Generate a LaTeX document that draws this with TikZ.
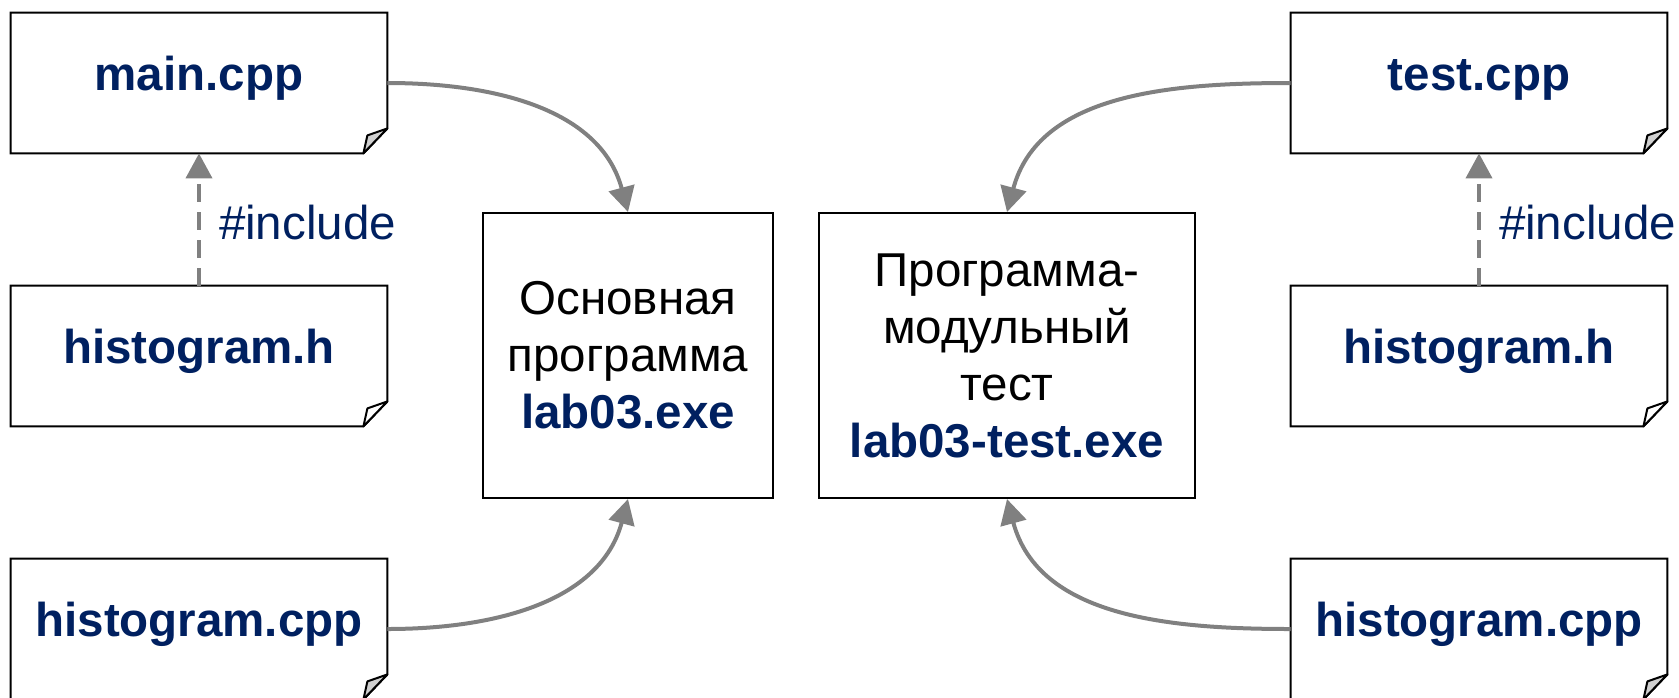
\documentclass[tikz,border=0pt]{standalone}
\usepackage{fontspec}
\setmainfont{Liberation Sans}
\usepackage{tikz}
\usetikzlibrary{arrows.meta,positioning}
\definecolor{navy}{HTML}{002060}
\definecolor{wire}{HTML}{808080}
\definecolor{foldgray}{HTML}{D0D0D0}
\newcommand{\labfont}{\fontsize{23.75}{28.5}\selectfont}

\begin{document}
\begin{tikzpicture}[x=0.5pt, y=0.5pt,
  srcfile/.style={minimum width=188pt, minimum height=70pt, inner sep=0pt,
    text height=10pt, text depth=3pt, font=\labfont\bfseries, text=navy},
  exebox/.style={draw, line width=1pt, minimum height=142.5pt, inner sep=0pt,
    align=center, font=\labfont},
  flow/.style={wire, line width=2pt, -{Triangle[length=12.5pt,width=13pt]}},
  incl/.style={flow, dash pattern=on 9pt off 5pt},
  incltext/.style={anchor=base west, xshift=9pt, yshift=-10pt, inner sep=0pt,
    font=\labfont, text=navy}]
\clip (0,0) rectangle (1679,-697);
\node[srcfile] (maincpp)  at (199,-83)  {main.cpp};
\node[srcfile] (hdrL)     at (199,-356) {histogram.h};
\node[srcfile] (histcppL) at (199,-629) {histogram.cpp};
\node[srcfile] (testcpp)  at (1479,-83)  {test.cpp};
\node[srcfile] (hdrR)     at (1479,-356) {histogram.h};
\node[srcfile] (histcppR) at (1479,-629) {histogram.cpp};
\node[exebox, minimum width=145pt] (exeMain) at (628,-355.5)
  {Основная\\программа\\{\bfseries\color{navy}lab03.exe}};
\node[exebox, minimum width=188pt] (exeTest) at (1007,-355.5)
  {Программа-\\модульный\\тест\\{\bfseries\color{navy}lab03-test.exe}};
\foreach \n/\c in {maincpp/foldgray, hdrL/white, histcppL/foldgray,
                   testcpp/foldgray, hdrR/white, histcppR/foldgray}{
  \draw[line width=1pt] (\n.north west) -- (\n.north east)
    -- ([yshift=12.5pt]\n.south east) -- ([xshift=-12pt]\n.south east)
    -- (\n.south west) -- cycle;
  \filldraw[line width=1pt, line join=round, fill=\c]
    ([yshift=12.5pt]\n.south east) -- ([xshift=-12pt]\n.south east)
    -- ([xshift=-10pt,yshift=9pt]\n.south east) -- cycle;
}
\draw[incl] (hdrL.north) -- node[incltext] {\#include} (maincpp.south);
\draw[incl] (hdrR.north) -- node[incltext] {\#include} (testcpp.south);
\draw[flow] (maincpp.east) to[out=0, in=105] (exeMain.north);
\draw[flow] (histcppL.east) to[out=0, in=-105] (exeMain.south);
\draw[flow] (testcpp.west) to[out=180, in=75] (exeTest.north);
\draw[flow] (histcppR.west) to[out=180, in=-75] (exeTest.south);
\end{tikzpicture}
\end{document}
